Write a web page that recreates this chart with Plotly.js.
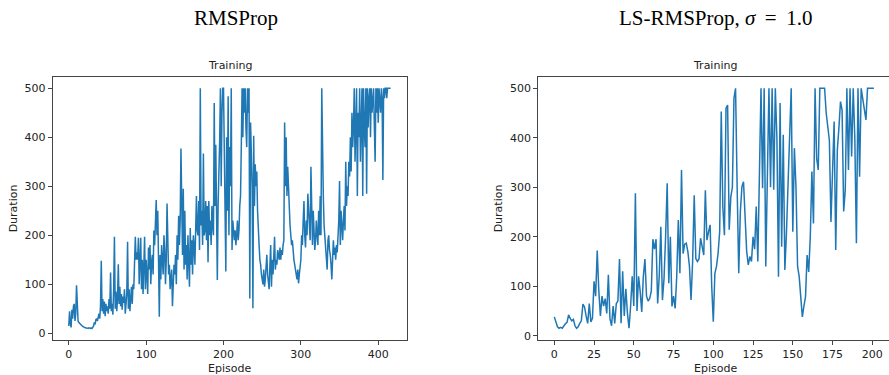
<!DOCTYPE html>
<html>
<head>
<meta charset="utf-8">
<script src="https://cdn.plot.ly/plotly-3.0.1.min.js"></script>
<style>html,body{margin:0;padding:0;background:#fff;}#chart{width:889px;height:375px;}</style>
</head>
<body>
<div id="chart"></div>
<script>
// RMSProp training durations (episodes 0..416)
const rmspropDuration = [
15,45,20,12,48,30,55,60,25,40,
98,35,25,22,20,18,16,15,14,13,
12,12,11,11,10,10,11,10,10,11,
10,12,15,22,18,28,30,25,35,40,
30,55,148,45,70,40,65,35,60,45,
55,40,70,50,124,45,60,38,90,197,
50,85,45,70,141,60,95,55,80,48,
75,62,90,40,60,82,187,50,90,45,
70,95,60,100,90,130,197,150,165,150,
195,100,160,195,90,150,80,170,197,90,
150,120,80,175,130,180,100,145,160,120,
210,180,235,272,200,250,150,34,160,110,
180,140,120,200,170,100,150,265,210,120,
140,90,110,130,55,100,140,120,160,100,
200,150,240,180,230,377,200,160,295,130,
250,140,180,110,200,150,95,215,140,190,
120,200,180,140,190,280,210,200,270,170,
500,220,250,180,367,200,210,270,190,260,
145,270,200,230,180,260,220,200,470,260,
385,200,109,260,320,390,500,300,450,500,
500,330,280,126,400,250,484,200,380,300,
500,170,230,200,190,210,180,200,230,190,
210,260,280,380,500,400,500,450,500,420,
380,500,450,500,71,430,380,300,51,403,
260,345,300,330,250,200,180,150,140,120,
110,100,130,95,110,140,160,120,100,90,
140,180,95,150,120,160,197,130,150,140,
170,160,150,175,150,170,160,180,190,430,
300,400,280,340,300,240,220,200,180,190,
160,150,140,130,120,110,130,102,120,140,
150,200,180,230,270,200,175,230,200,285,
250,200,190,340,220,180,250,200,170,190,
230,200,180,250,200,280,200,500,360,280,
220,200,180,150,130,190,200,170,160,140,
110,150,190,160,175,150,180,165,200,230,
311,180,250,200,190,230,260,210,350,260,
300,280,350,320,400,330,450,380,420,500,
350,420,500,280,450,400,500,350,450,500,
280,500,420,380,500,285,500,420,480,500,
400,500,450,480,500,420,350,500,450,500,
430,500,470,450,500,480,313,500,480,500,
500,480,500,500,500,500,500
];
// LS-RMSProp (sigma = 1.0) training durations (episodes 0..201)
const lsRmspropDuration = [
38,28,18,15,17,15,20,24,27,42,
35,30,33,20,15,18,25,30,64,58,
40,25,65,28,35,110,80,172,90,40,
80,60,75,45,123,35,20,60,25,65,
70,155,25,130,40,95,45,15,60,120,
60,288,50,120,90,48,120,155,80,70,
75,90,195,175,195,65,120,220,72,115,
200,308,106,200,59,80,55,120,234,126,
335,166,185,187,170,140,72,150,284,156,
150,155,197,175,163,294,193,210,224,100,
28,126,140,166,210,453,260,203,460,466,
214,280,300,480,500,300,126,250,301,311,
240,170,143,160,150,200,175,261,150,300,
500,298,500,140,350,500,300,500,295,500,
400,119,470,180,406,133,207,300,400,500,
210,379,300,140,120,80,38,60,79,163,
129,200,332,227,500,358,335,500,500,500,
500,450,420,395,230,362,433,173,375,420,
473,456,251,295,500,335,500,362,500,400,
187,500,321,500,476,460,436,500,500,500,
500,500
];
const leftTicks = [0, 100, 200, 300, 400];
const rightTicks = [0, 25, 50, 75, 100, 125, 150, 175, 200];
const yTicks = [0, 100, 200, 300, 400, 500];
const mainTitles = ["RMSProp", "LS-RMSProp, <i>σ</i>\u2009 = \u20091.0"];
const subTitle = "Training";
const xLabel = "Episode";
const yLabel = "Duration";

const W = 889, H = 375;
const px = x => x / W;
const py = y => 1 - y / H;
const blue = '#1f77b4';
const tickFont = {family: 'DejaVu Sans', size: 11, color: '#222'};
const lineColor = '#444';

const episodes = arr => arr.map((_, i) => i);

const traces = [
  {x: episodes(rmspropDuration), y: rmspropDuration, type: 'scatter', mode: 'lines',
   line: {color: blue, width: 1.5}, xaxis: 'x', yaxis: 'y', hoverinfo: 'skip'},
  {x: episodes(lsRmspropDuration), y: lsRmspropDuration, type: 'scatter', mode: 'lines',
   line: {color: blue, width: 1.5}, xaxis: 'x2', yaxis: 'y2', hoverinfo: 'skip'}
];

const axBase = {showgrid: false, zeroline: false, ticks: 'outside', ticklen: 4, tickwidth: 1,
  tickcolor: lineColor, showline: true, linecolor: lineColor, linewidth: 1, tickfont: tickFont};

const L = {l: 52.7, r: 406.7, t: 76.7, b: 340};
const R = {l: 538.3, r: 889, t: 76.7, b: 340};

const layout = {
  width: W, height: H,
  margin: {l: 0, r: 0, t: 0, b: 0},
  paper_bgcolor: '#fff', plot_bgcolor: '#fff',
  showlegend: false,
  xaxis: Object.assign({}, axBase, {domain: [px(L.l), px(L.r)], range: [-20.8, 436.8],
    tickvals: leftTicks, mirror: true, anchor: 'y'}),
  yaxis: Object.assign({}, axBase, {domain: [py(L.b), py(L.t)], range: [-13.7, 523.7],
    tickvals: yTicks, mirror: true, anchor: 'x'}),
  xaxis2: Object.assign({}, axBase, {domain: [px(R.l), 1], range: [-10.06, 210.5],
    tickvals: rightTicks, mirror: true, anchor: 'y2'}),
  yaxis2: Object.assign({}, axBase, {domain: [py(R.b), py(R.t)], range: [-8.7, 523.4],
    tickvals: yTicks, mirror: false, anchor: 'x2'}),
  annotations: [
    {text: mainTitles[0], x: px(236), y: py(18), xref: 'paper', yref: 'paper', showarrow: false,
     font: {family: 'Liberation Serif', size: 21, color: '#000'}, xanchor: 'center', yanchor: 'middle'},
    {text: mainTitles[1], x: px(715), y: py(18), xref: 'paper', yref: 'paper', showarrow: false,
     font: {family: 'Liberation Serif', size: 21, color: '#000'}, xanchor: 'center', yanchor: 'middle'},
    {text: subTitle, x: px((L.l + L.r) / 2), y: py(66), xref: 'paper', yref: 'paper', showarrow: false,
     font: {family: 'DejaVu Sans', size: 11, color: '#222'}, xanchor: 'center', yanchor: 'middle'},
    {text: subTitle, x: px(715), y: py(66), xref: 'paper', yref: 'paper', showarrow: false,
     font: {family: 'DejaVu Sans', size: 11, color: '#222'}, xanchor: 'center', yanchor: 'middle'},
    {text: xLabel, x: px((L.l + L.r) / 2), y: py(368), xref: 'paper', yref: 'paper', showarrow: false,
     font: {family: 'DejaVu Sans', size: 11, color: '#222'}, xanchor: 'center', yanchor: 'middle'},
    {text: xLabel, x: px(715), y: py(368), xref: 'paper', yref: 'paper', showarrow: false,
     font: {family: 'DejaVu Sans', size: 11, color: '#222'}, xanchor: 'center', yanchor: 'middle'},
    {text: yLabel, x: px(13), y: py((L.t + L.b) / 2), xref: 'paper', yref: 'paper', showarrow: false, textangle: -90,
     font: {family: 'DejaVu Sans', size: 11, color: '#222'}, xanchor: 'center', yanchor: 'middle'},
    {text: yLabel, x: px(498), y: py((R.t + R.b) / 2), xref: 'paper', yref: 'paper', showarrow: false, textangle: -90,
     font: {family: 'DejaVu Sans', size: 11, color: '#222'}, xanchor: 'center', yanchor: 'middle'}
  ]
};

Plotly.newPlot('chart', traces, layout, {staticPlot: true, displayModeBar: false});
</script>
</body>
</html>
